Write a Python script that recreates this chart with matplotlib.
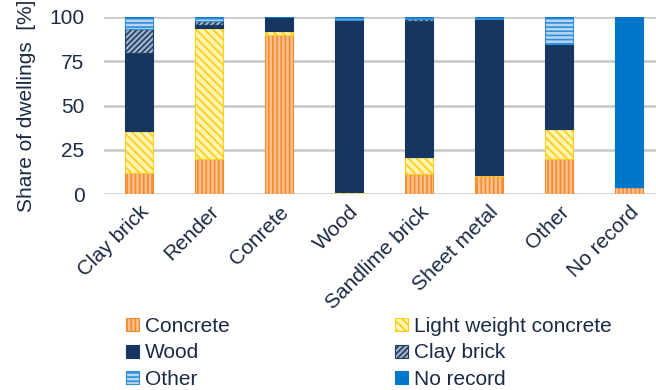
import matplotlib
matplotlib.use("Agg")
import matplotlib.pyplot as plt
from matplotlib.patches import Patch
import numpy as np

categories = ["Clay brick", "Render", "Conrete", "Wood", "Sandlime brick",
              "Sheet metal", "Other", "No record"]

# Share of dwellings [%] per facade material (stacked from bottom to top)
concrete = [12, 20, 90, 0, 11.5, 10, 19.5, 4]
light_weight_concrete = [23.5, 74, 2, 1, 9.5, 0.5, 17, 0]
wood = [44, 1.5, 8, 97.5, 77, 88.5, 48, 0]
clay_brick = [14, 2.5, 0, 0, 1, 0, 0.5, 0]
other = [6.5, 2, 0, 1.5, 1, 1, 15, 0]
no_record = [0, 0, 0, 0, 0, 0, 0, 96]

series = [
    ("Concrete", concrete, dict(facecolor="#FCC08E", edgecolor="#F68B2C", hatch="||||")),
    ("Light weight concrete", light_weight_concrete, dict(facecolor="#FFF3B0", edgecolor="#FFCC1A", hatch="\\\\\\\\")),
    ("Wood", wood, dict(facecolor="#17365F", edgecolor="#17365F", hatch=None)),
    ("Clay brick", clay_brick, dict(facecolor="#A3B1C6", edgecolor="#1F3F6A", hatch="//////")),
    ("Other", other, dict(facecolor="#B8D6F0", edgecolor="#2F8FDB", hatch="----")),
    ("No record", no_record, dict(facecolor="#0077C8", edgecolor="#0077C8", hatch=None)),
]

text_color = "#1B2A44"
fs = 15
plt.rcParams["font.family"] = ["Liberation Sans", "DejaVu Sans"]
plt.rcParams["hatch.linewidth"] = 1.2

fig = plt.figure(figsize=(6.56, 3.90), dpi=100)
ax = fig.add_axes([104 / 656, 1 - 194 / 390, 560 / 656, 177 / 390])

x = np.arange(len(categories))
bottom = np.zeros(len(categories))
handles = {}
for name, vals, style in series:
    vals = np.array(vals, dtype=float)
    ax.bar(x, vals, width=0.4, bottom=bottom, linewidth=0.8, zorder=3, **style)
    bottom += vals
    handles[name] = Patch(label=name, linewidth=0.8, **style)

ax.set_xlim(-0.5, len(categories) - 0.5)
ax.set_ylim(0, 100)
ax.set_yticks([0, 25, 50, 75, 100])
ax.yaxis.grid(True, color="#C8C8C8", linewidth=1.8, zorder=0)
ax.set_axisbelow(True)
for s in ax.spines.values():
    s.set_visible(False)
ax.tick_params(axis="both", length=0, labelsize=fs, colors=text_color, pad=6)
ax.tick_params(axis="y", pad=14)
ax.set_xticks(x)
ax.set_xticklabels(categories, rotation=45, ha="right", rotation_mode="anchor")
ax.set_ylabel("Share of dwellings  [%]", fontsize=fs, color=text_color, labelpad=10)

# Two-column legend read row by row
order = ["Concrete", "Wood", "Other", "Light weight concrete", "Clay brick", "No record"]
fig.legend(handles=[handles[k] for k in order], ncols=2, loc="upper left",
           bbox_to_anchor=(122 / 656, 1 - 313 / 390), frameon=False,
           fontsize=fs, labelcolor=text_color, handlelength=0.6, handleheight=0.6,
           handletextpad=0.3, labelspacing=0.35, columnspacing=7.95,
           borderaxespad=0, borderpad=0.2)

fig.savefig("out.png", dpi=100)
